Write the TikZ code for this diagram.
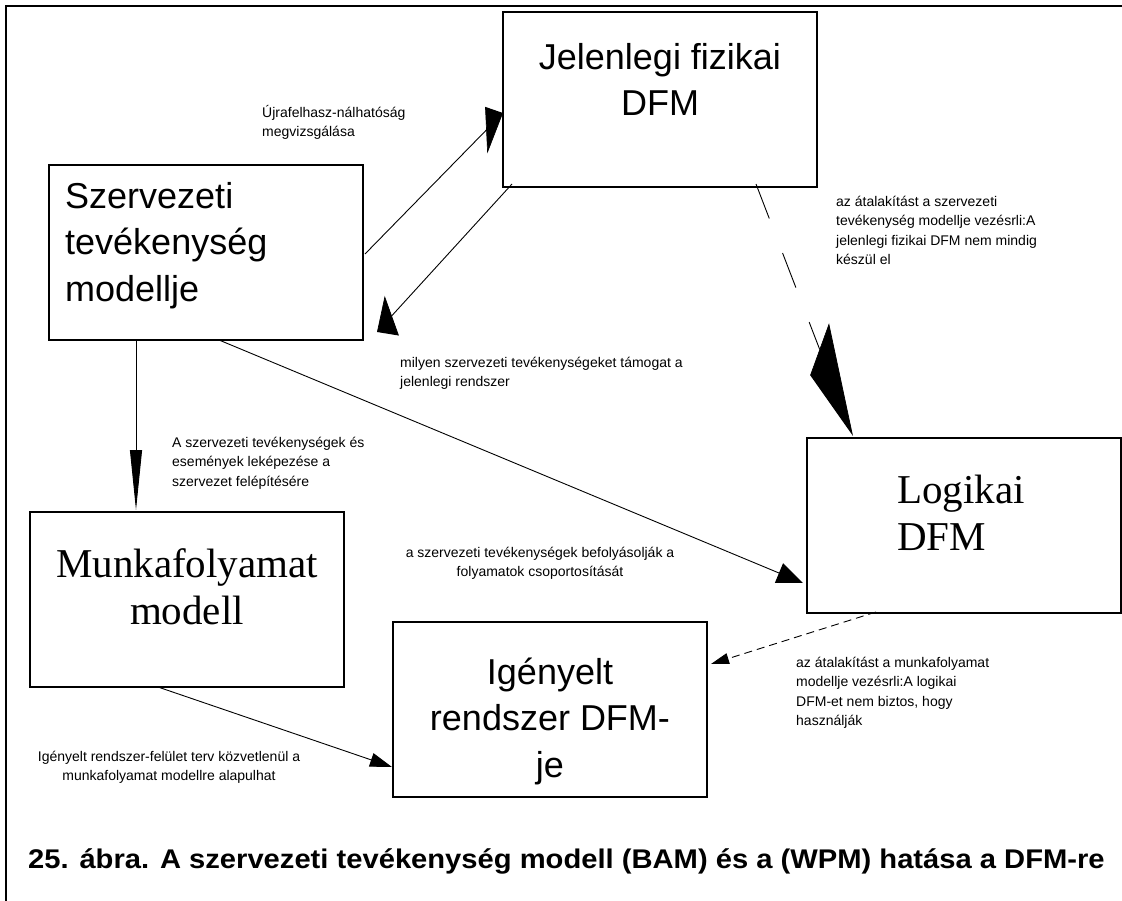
\documentclass[tikz,border=0pt]{standalone}
\usepackage{fontspec}
\setmainfont{Liberation Sans}
\newfontfamily\serifnorm{Liberation Serif}
\newfontfamily\capfont{Liberation Sans}[FakeStretch=1.08]
\usetikzlibrary{arrows.meta,calc}
\begin{document}
\begin{tikzpicture}[x=1pt,y=-1pt,
  box/.style={draw=black,line width=1.1pt,minimum width=314pt,minimum height=175pt,inner sep=0pt,outer sep=0pt},
  ttl/.style={inner sep=0pt,font=\fontsize{36}{46.5}\selectfont},
  sttl/.style={inner sep=0pt,font=\serifnorm\fontsize{41}{47.5}\selectfont},
  lbl/.style={inner sep=0pt,font=\fontsize{14}{19.5}\selectfont},
  conn/.style={line width=0.9pt},
]
\fill[white] (0,0) rectangle (1122,901);
\useasboundingbox (0,0) rectangle (1122,901);
% frame
\draw[line width=2.6pt] (6,901) -- (6,6) -- (1122,6);
% boxes
\node[box] (szerv) at (206,252.5) {};
\node[box] (jel) at (660,99.5) {};
\node[box] (logi) at (964,525.5) {};
\node[box] (munka) at (187,599.5) {};
\node[box] (ig) at (550,709.5) {};
% box titles
\node[ttl,anchor=north west,align=left] (szervt) at (65,175.45) {\strut Szervezeti\\tevékenység\\modellje};
\node[ttl,anchor=north,align=center] (jelt) at (660,36.45) {\strut Jelenlegi fizikai\\DFM};
\node[ttl,anchor=north,align=center] (igt) at (550,651.45) {\strut Igényelt\\rendszer DFM-\\je};
\node[sttl,anchor=north,align=center] (munkat) at (187,543.75) {\strut Munkafolyamat\\modell};
\node[sttl,anchor=north west,align=left] (logit) at (897,469.75) {\strut Logikai\\DFM};
% labels
\node[lbl,anchor=north west,align=left] (l1) at (262,103.35) {\strut Újrafelhasz-nálhatóság\\megvizsgálása};
\node[lbl,anchor=north west,align=left] (l2) at (836,192.35) {\strut az átalakítást a szervezeti\\tevékenység modellje vezésrli:A\\jelenlegi fizikai DFM nem mindig\\készül el};
\node[lbl,anchor=north west,align=left] (l3) at (400,353.35) {\strut milyen szervezeti tevékenységeket támogat a\\jelenlegi rendszer};
\node[lbl,anchor=north west,align=left] (l4) at (172,433.35) {\strut A szervezeti tevékenységek és\\események leképezése a\\szervezet felépítésére};
\node[lbl,anchor=north,align=center] (l5) at (540,543.35) {\strut a szervezeti tevékenységek befolyásolják a\\folyamatok csoportosítását};
\node[lbl,anchor=north west,align=left] (l6) at (796,653.35) {\strut az átalakítást a munkafolyamat\\modellje vezésrli:A logikai\\DFM-et nem biztos, hogy\\használják};
\node[lbl,anchor=north,align=center] (l7) at (169,747.35) {\strut Igényelt rendszer-felület terv közvetlenül a\\munkafolyamat modellre alapulhat};
% caption
\node[anchor=base west,inner sep=0pt,font=\capfont\bfseries\fontsize{27}{32}\selectfont] (cap) at (28,868) {25. ábra. A szervezeti tevékenység modell (BAM) és a (WPM) hatása a DFM-re};
% connectors
\coordinate (a2end) at ($(szerv.south east)+(14,-8)$);
\draw[conn,-{Triangle[length=24pt,width=34pt,slant=0.93]}] ($(szerv.east)+(2,1.5)$) -- ($(jel.north west)+(0,101)$);
\draw[conn,-{Triangle[length=22pt,width=37pt,slant=0.53]}] ($(jel.south west)+(9,-3)$) -- (a2end);
\draw[conn,dash pattern=on 37pt off 37pt,-{Triangle[length=93pt,width=36pt,slant=-1.15]}] ($(jel.south)+(96,-3)$) -- ($(logi.north west)+(46,-2)$);
\draw[conn,-{Triangle[length=60pt,width=12pt]}] ($(szerv.south west)+(87,0)$) -- ($(munka.north west)+(106,-2)$);
\draw[conn,-{Triangle[length=26pt,width=21pt]}] ($(szerv.south west)+(170,0)$) -- ($(logi.south west)+(-4,-30)$);
\draw[conn,dash pattern=on 8pt off 5pt,-{Triangle[length=18pt,width=11pt]}] ($(logi.south west)+(69,-1)$) -- ($(ig.north east)+(4,42)$);
\draw[conn,-{Triangle[length=22pt,width=14pt]}] ($(munka.south west)+(128,0)$) -- ($(ig.south west)+(-1,-30)$);
\end{tikzpicture}
\end{document}
